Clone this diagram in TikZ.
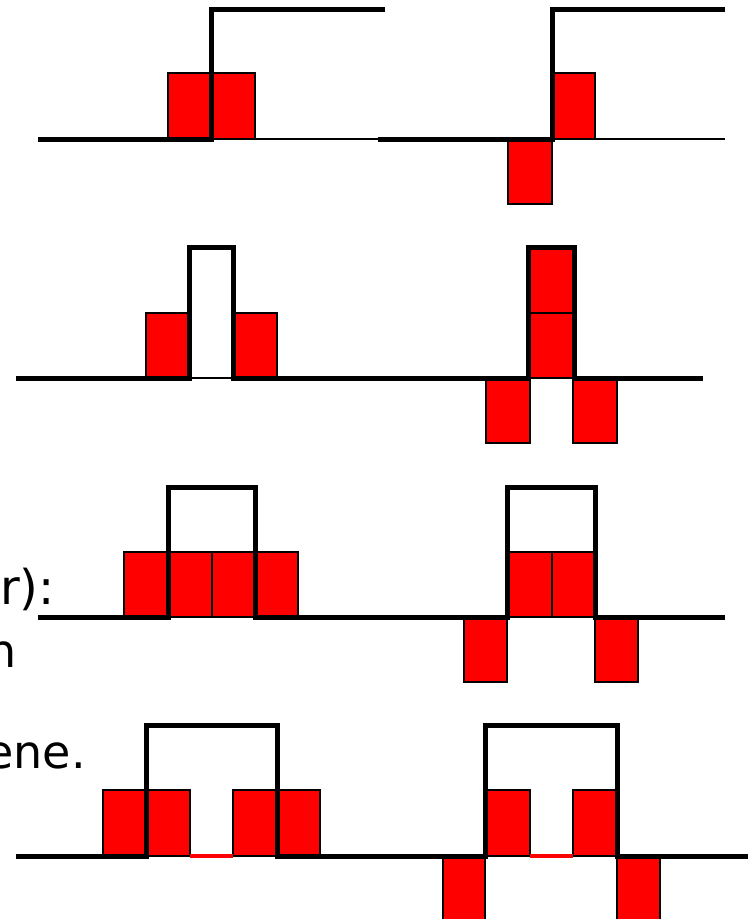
\documentclass[tikz,border=0pt]{standalone}
\usepackage{fontspec}
\newfontfamily\txtfont{DejaVu Sans}
\begin{document}
\begin{tikzpicture}[x=1pt,y=-1pt,
  cell/.style={fill={rgb,255:red,255;green,0;blue,0},draw=black,line width=1.2pt},
  signal/.style={draw=black,line width=5pt,line join=miter},
  axis/.style={draw=black,line width=1.2pt},
  gap/.style={draw={rgb,255:red,255;green,0;blue,0},line width=4pt},
  txt/.style={font=\txtfont\fontsize{46}{55}\selectfont,inner sep=0pt,anchor=base east}]
\useasboundingbox[fill=white] (0,0) rectangle (752,919);
% ---------- row 1 ----------
\draw[axis] (211,139) -- (380,139);
\draw[axis] (552,139) -- (725,139);
\draw[cell] (168,73) rectangle (211,139);
\draw[cell] (211,73) rectangle (255,139);
\draw[cell] (552,73) rectangle (595,139);
\draw[cell] (508,139) rectangle (552,204);
\draw[signal] (38,139) -- (211,139) -- (211,9) -- (385,9);
\draw[signal] (378,139) -- (552,139) -- (552,9) -- (725,9);
% ---------- row 2 ----------
\draw[axis] (189,378) -- (233,378);
\draw[cell] (146,313) rectangle (189,378);
\draw[cell] (233,313) rectangle (277,378);
\draw[cell] (530,247) rectangle (573,313);
\draw[cell] (530,313) rectangle (573,378);
\draw[cell] (486,378) rectangle (530,443);
\draw[cell] (573,378) rectangle (617,443);
\draw[signal] (16,378) -- (189,378) -- (189,247) -- (233,247) -- (233,378) -- (380,378);
\draw[signal] (370,378) -- (528,378) -- (528,247) -- (574,247) -- (574,378) -- (703,378);
% ---------- row 3 ----------
\draw[cell] (124,552) rectangle (168,617);
\draw[cell] (168,552) rectangle (212,617);
\draw[cell] (212,552) rectangle (255,617);
\draw[cell] (255,552) rectangle (298,617);
\draw[cell] (507,552) rectangle (552,617);
\draw[cell] (552,552) rectangle (595,617);
\draw[cell] (464,617) rectangle (507,682);
\draw[cell] (595,617) rectangle (638,682);
\draw[signal] (38,617) -- (168,617) -- (168,487) -- (255,487) -- (255,617) -- (380,617);
\draw[signal] (370,617) -- (507,617) -- (507,487) -- (595,487) -- (595,617) -- (725,617);
% ---------- row 4 ----------
\draw[cell] (103,790) rectangle (146,856);
\draw[cell] (146,790) rectangle (190,856);
\draw[cell] (233,790) rectangle (277,856);
\draw[cell] (277,790) rectangle (320,856);
\draw[gap] (190,856) -- (233,856);
\draw[cell] (485,790) rectangle (530,856);
\draw[cell] (573,790) rectangle (617,856);
\draw[cell] (443,856) rectangle (485,921);
\draw[cell] (617,856) rectangle (660,921);
\draw[gap] (530,856) -- (573,856);
\draw[signal] (16,856) -- (146,856) -- (146,725) -- (277,725) -- (277,856) -- (380,856);
\draw[signal] (370,856) -- (485,856) -- (485,725) -- (617,725) -- (617,856) -- (748,856);
% ---------- text fragments ----------
\node[txt,font=\txtfont\fontsize{48}{58}\selectfont] (t1) at (55,604) {r):};
\node[txt] (t2) at (17,667) {n};
\node[txt] (t3) at (86,768) {gene.};
\end{tikzpicture}
\end{document}
